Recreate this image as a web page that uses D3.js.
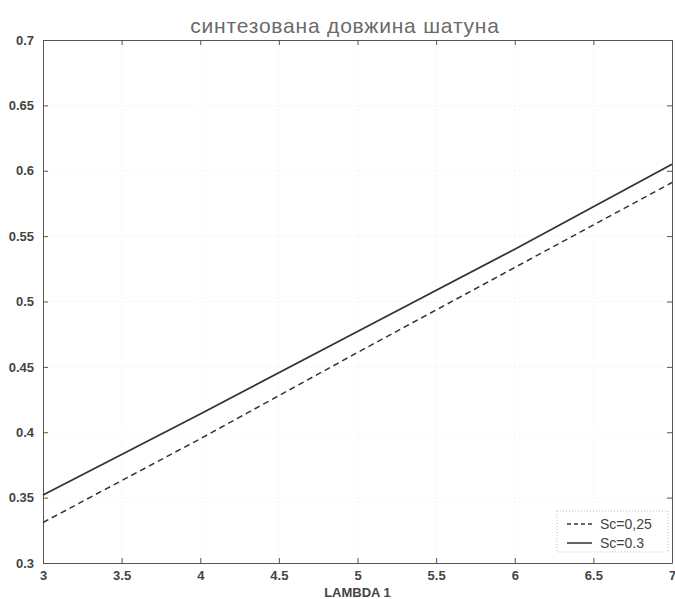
<!DOCTYPE html>
<html>
<head>
<meta charset="utf-8">
<script src="https://cdn.jsdelivr.net/npm/d3@7"></script>
<style>
  body { margin: 0; background: #fff; }
  svg { display: block; }
</style>
</head>
<body>
<div id="chart"></div>
<script>
// data
const lambda = [3, 4, 5, 6, 7];
const sc025 = [0.331, 0.395, 0.461, 0.526, 0.591];
const sc03 = [0.352, 0.414, 0.477, 0.540, 0.605];
const xTicks = [3, 3.5, 4, 4.5, 5, 5.5, 6, 6.5, 7];
const yTicks = [0.3, 0.35, 0.4, 0.45, 0.5, 0.55, 0.6, 0.65, 0.7];
const seriesNames = ["Sc=0,25", "Sc=0.3"];

const W = 675, H = 599;
const m = { left: 43, right: 3, top: 40, bottom: 36 };

const svg = d3.select("#chart").append("svg")
    .attr("width", W)
    .attr("height", H);

const x = d3.scaleLinear().domain([3, 7]).range([m.left, W - m.right]);
const y = d3.scaleLinear().domain([0.3, 0.7]).range([H - m.bottom, m.top]);

const ink = "#333";
const labFont = "'Liberation Sans', Arial, sans-serif";

// faint dotted grid
const grid = svg.append("g").attr("stroke", "#ebebeb").attr("stroke-dasharray", "1,3");
grid.selectAll("line.gx").data(xTicks.slice(1, -1)).enter().append("line")
    .attr("x1", d => x(d)).attr("x2", d => x(d))
    .attr("y1", y(0.3)).attr("y2", y(0.7));
grid.selectAll("line.gy").data(yTicks.slice(1, -1)).enter().append("line")
    .attr("x1", x(3)).attr("x2", x(7))
    .attr("y1", d => y(d)).attr("y2", d => y(d));

// axes with inner ticks on all four sides
const fmt = d => String(d);
const axB = svg.append("g").attr("transform", `translate(0,${y(0.3)})`)
    .call(d3.axisBottom(x).tickValues(xTicks).tickSizeInner(-5).tickSizeOuter(0).tickPadding(8).tickFormat(fmt));
const axT = svg.append("g").attr("transform", `translate(0,${y(0.7)})`)
    .call(d3.axisTop(x).tickValues(xTicks).tickSizeInner(-5).tickSizeOuter(0).tickFormat(""));
const axL = svg.append("g").attr("transform", `translate(${x(3)},0)`)
    .call(d3.axisLeft(y).tickValues(yTicks).tickSizeInner(-5).tickSizeOuter(0).tickPadding(9).tickFormat(fmt));
const axR = svg.append("g").attr("transform", `translate(${x(7)},0)`)
    .call(d3.axisRight(y).tickValues(yTicks).tickSizeInner(-5).tickSizeOuter(0).tickFormat(""));

[axB, axT, axL, axR].forEach(g => {
  g.selectAll("path, line").attr("stroke", "#555").attr("stroke-width", 1);
  g.selectAll("text").attr("fill", "#444").style("font-family", labFont)
      .style("font-size", "13px").style("font-weight", "bold");
});

// lines
const line = d3.line().x((d, i) => x(lambda[i])).y(d => y(d));
svg.append("path").datum(sc025)
    .attr("d", line).attr("fill", "none").attr("stroke", ink)
    .attr("stroke-width", 1.5).attr("stroke-dasharray", "6,4");
svg.append("path").datum(sc03)
    .attr("d", line).attr("fill", "none").attr("stroke", ink)
    .attr("stroke-width", 1.8);

// title and label
svg.append("text").attr("x", 345).attr("y", 33).attr("text-anchor", "middle")
    .attr("fill", "#6a6a6a").style("font-family", "'Liberation Sans', Arial, sans-serif")
    .style("font-size", "21px").style("letter-spacing", "0.8px").text("синтезована довжина шатуна");
svg.append("text").attr("x", (x(3) + x(7)) / 2).attr("y", 597).attr("text-anchor", "middle")
    .attr("fill", "#444").style("font-family", labFont).style("font-weight", "bold")
    .style("font-size", "13px").text("LAMBDA 1");

// legend
const lg = svg.append("g").attr("transform", "translate(557,511)");
lg.append("rect").attr("width", 111).attr("height", 41)
    .attr("fill", "#fff").attr("stroke", "#bbb").attr("stroke-dasharray", "1,2");
seriesNames.forEach((name, i) => {
  const ly = 13 + i * 19;
  lg.append("line").attr("x1", 10).attr("x2", 35).attr("y1", ly).attr("y2", ly)
      .attr("stroke", ink).attr("stroke-width", 1.5)
      .attr("stroke-dasharray", i === 0 ? "4,3" : null);
  lg.append("text").attr("x", 43).attr("y", ly + 5).attr("fill", "#444")
      .style("font-family", labFont).style("font-size", "14px").text(name);
});
</script>
</body>
</html>
